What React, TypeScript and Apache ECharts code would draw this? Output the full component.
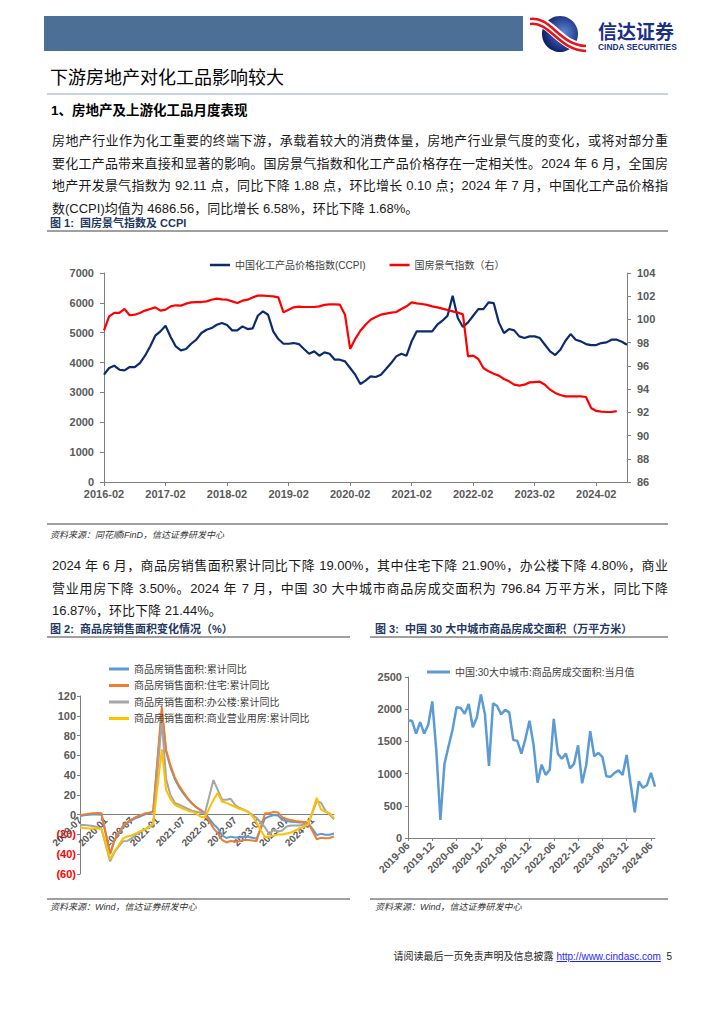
import React, { useEffect, useRef } from "react";
import * as echarts from "echarts";

function monthRange(y0: number, m0: number, count: number): string[] {
  const out: string[] = [];
  let y = y0;
  let m = m0;
  for (let i = 0; i < count; i++) {
    out.push(`${y}-${m < 10 ? "0" + m : m}`);
    m++;
    if (m > 12) { m = 1; y++; }
  }
  return out;
}

// Chart 1: 2016-02 .. 2024-08
const cat1 = monthRange(2016, 2, 103);
const ccpi = [
  3594, 3817, 3895, 3760, 3740, 3850, 3850, 3985, 4230, 4540, 4900, 5045,
  5234, 4855, 4540, 4410, 4453, 4630, 4766, 4989, 5100, 5156, 5268, 5323,
  5257, 5078, 5078, 5212, 5123, 5145, 5569, 5714, 5602, 5045, 4788, 4631,
  4631, 4654, 4620, 4453, 4297, 4375, 4230, 4342, 4297, 4096, 4096, 4040,
  3817, 3594, 3281, 3393, 3538, 3516, 3594, 3783, 3984, 4208, 4297, 4230,
  4710, 5045, 5045, 5045, 5045, 5268, 5402, 5569, 6239, 5491, 5190, 5346,
  5569, 5792, 5792, 6016, 5993, 5346, 4989, 5123, 5078, 4877, 4821, 4877,
  4877, 4821, 4598, 4375, 4252, 4431, 4732, 4955, 4766, 4710, 4620, 4587,
  4587, 4654, 4676, 4766, 4766, 4699, 4598,
];
const housingIndex = [
  99.06, 100.27, 100.56, 100.56, 100.9, 100.36, 100.41, 100.56, 100.76, 100.9, 101.04, 100.76,
  100.84, 101.13, 101.22, 101.19, 101.36, 101.47, 101.5, 101.5, 101.56, 101.7, 101.79, 101.73,
  101.7, 101.56, 101.42, 101.62, 101.7, 101.9, 102.05, 102.05, 102.02, 101.99, 101.9, 100.61,
  100.84, 101.04, 101.1, 101.07, 101.07, 101.07, 101.13, 101.25, 101.3, 101.3, 101.27, 100.41,
  97.46, 98.32, 99.03, 99.55, 99.98, 100.21, 100.41, 100.5, 100.59, 100.64, 100.9, 101.13,
  101.47, 101.39, 101.33, 101.25, 101.13, 101.04, 100.93, 100.81, 100.7, 100.59, 100.44, 96.82,
  96.88, 96.59, 95.82, 95.53, 95.33, 95.16, 94.87, 94.67, 94.38, 94.3, 94.38, 94.58,
  94.61, 94.64, 94.38, 93.95, 93.67, 93.49, 93.38, 93.38, 93.38, 93.38, 93.32, 92.37,
  92.12, 92.06, 92.03, 92.03, 92.11,
];

// Chart 2: 2019-07 .. 2024-06
const cat2 = monthRange(2019, 7, 60);
const salesTotal = [
  -1.3, -0.6, -0.1, 0.1, 0.2, -0.1, null, -39.9, -26.3, -19.3, -12.3, -8.4,
  -5.8, -3.3, -1.8, 0.0, 1.3, 2.6, null, 104.9, 63.8, 48.1, 36.3, 27.7,
  21.5, 15.9, 11.3, 7.6, 4.8, 1.9, null, -9.6, -13.8, -20.9, -23.6, -22.2,
  -23.1, -23.0, -22.2, -22.3, -23.3, -24.3, null, -3.6, -1.8, -0.4, -0.9, -5.3,
  -6.5, -7.1, -7.5, -7.8, -8.0, -8.5, null, -20.5, -19.4, -20.2, -20.3, -19.0,
];
const salesResidential = [
  -0.6, 0.3, 0.9, 1.5, 1.8, 1.5, null, -39.2, -25.9, -18.3, -11.1, -7.6,
  -4.8, -2.3, -0.5, 1.1, 2.0, 3.2, null, 108.9, 65.3, 50.2, 38.0, 29.4,
  22.8, 16.7, 11.6, 7.5, 4.4, 1.1, null, -13.8, -18.6, -25.5, -28.1, -26.6,
  -27.1, -26.8, -25.7, -25.7, -26.2, -26.8, null, 1.4, 1.5, 2.7, 2.3, -2.8,
  -4.3, -5.5, -6.3, -6.8, -7.3, -8.2, null, -24.8, -23.4, -23.8, -23.6, -21.9,
];
const salesOffice = [
  -10.5, -10.5, -11.0, -11.5, -12.5, -14.7, null, -47.3, -38.0, -32.0, -27.0, -26.5,
  -24.0, -20.0, -17.0, -15.0, -12.0, -10.4, null, 95.0, 36.0, 20.0, 12.0, 10.0,
  8.0, 6.0, 4.0, 3.0, 2.0, 1.2, null, 35.0, 25.0, 15.0, 15.0, 16.0,
  10.0, 7.0, 5.0, 3.0, 0.0, -3.3, null, -13.0, -20.0, -15.0, -17.0, -16.0,
  -12.0, -11.0, -11.0, -11.0, -10.0, -9.7, null, 14.0, 12.0, 4.0, 0.0, -4.8,
];
const salesCommercial = [
  -13.0, -13.5, -14.0, -14.0, -14.0, -14.5, null, -45.0, -37.0, -31.0, -24.0, -22.0,
  -21.0, -19.0, -17.0, -15.0, -13.0, -8.7, null, 66.0, 25.0, 16.0, 10.0, 8.0,
  6.0, 4.0, 3.0, 1.0, -2.0, -2.6, null, 15.0, 22.0, 13.0, 12.0, 10.0,
  8.0, 6.0, 5.0, 3.0, -1.0, -8.0, null, -23.0, -22.0, -21.0, -20.0, -20.0,
  -19.0, -18.0, -16.0, -14.0, -12.0, -10.0, null, 17.0, 5.0, 3.0, 1.5, -3.5,
];

// Chart 3: 2019-06 .. 2024-07
const cat3 = monthRange(2019, 6, 62);
const cityArea = [
  1826, 1820, 1620, 1800, 1620, 1760, 2120, 1350, 280, 1150, 1420, 1680,
  2030, 2020, 1930, 2080, 1720, 1870, 2230, 1920, 1120, 2090, 2050, 1920,
  1990, 1950, 1520, 1510, 1310, 1540, 1820, 1450, 860, 1140, 980, 1060,
  1850, 1310, 1230, 1310, 1080, 1150, 1440, 850, 1130, 1660, 1270, 1320,
  1260, 960, 950, 1010, 1050, 980, 1290, 830, 400, 880, 780, 820,
  1010, 797,
];

const S1A = "中国化工产品价格指数(CCPI)";
const S1B = "国房景气指数（右）";
const S2A = "商品房销售面积:累计同比";
const S2B = "商品房销售面积:住宅:累计同比";
const S2C = "商品房销售面积:办公楼:累计同比";
const S2D = "商品房销售面积:商业营业用房:累计同比";
const S3A = "中国:30大中城市:商品房成交面积:当月值";

const numFont = '"Liberation Sans", Arial, sans-serif';
const cjkFont = '"Liberation Sans", "Noto Sans CJK SC", sans-serif';
const axisColor = "#7f7f7f";
const labelColor = "#595959";

const plain = (v: number) => String(v);
const baseLabel = { fontFamily: numFont, fontSize: 11, fontWeight: "bold", color: labelColor };
const line = { lineStyle: { color: axisColor, width: 1 } };

// chart 2 geometry: zero line offset from grid bottom
const g2Top = 696;
const g2Height = 178;
const zeroOffset = -(g2Height * 60) / 180;

function App() {
  const ref = useRef<HTMLDivElement>(null);
  useEffect(() => {
    if (!ref.current) return;
    const chart = echarts.init(ref.current, null, { renderer: "svg" });
    const hr = (x1: number, x2: number, y: number, color: string, w = 1) => ({
      type: "line",
      shape: { x1, y1: y, x2, y2: y },
      style: { stroke: color, lineWidth: w },
      silent: true,
    });
    const option: any = {
      animation: false,
      backgroundColor: "#ffffff",
      grid: [
        { left: 104, top: 273, width: 523, height: 209, outerBoundsMode: "none" },
        { left: 80, top: g2Top, width: 254, height: g2Height, outerBoundsMode: "none" },
        { left: 408, top: 677, width: 247, height: 161, outerBoundsMode: "none" },
      ],
      legend: [
        {
          data: [S1A, S1B], left: 205, top: 255, icon: "rect", itemWidth: 20, itemHeight: 2.5,
          itemGap: 24, textStyle: { fontFamily: cjkFont, fontSize: 10, color: "#404040" },
        },
        {
          data: [S2A, S2B, S2C, S2D], orient: "vertical", left: 104, top: 659, icon: "rect",
          itemWidth: 20, itemHeight: 3, itemGap: 6.5, textStyle: { fontFamily: cjkFont, fontSize: 10, color: "#404040" },
        },
        {
          data: [S3A], left: 422, top: 662, icon: "rect", itemWidth: 23, itemHeight: 3,
          textStyle: { fontFamily: cjkFont, fontSize: 10, color: "#404040" },
        },
      ],
      xAxis: [
        {
          type: "category", gridIndex: 0, data: cat1, boundaryGap: false,
          axisLine: line, axisTick: { show: true, interval: 11, length: 4, ...line },
          axisLabel: { ...baseLabel, interval: 11, margin: 6 }, splitLine: { show: false },
        },
        {
          type: "category", gridIndex: 1, data: cat2, boundaryGap: false, position: "bottom",
          offset: zeroOffset,
          axisLine: { onZero: false, ...line }, axisTick: { show: false },
          axisLabel: { ...baseLabel, fontSize: 10, interval: 5, rotate: 45, margin: 4 }, splitLine: { show: false },
        },
        {
          type: "category", gridIndex: 2, data: cat3, boundaryGap: false,
          axisLine: line, axisTick: { show: true, interval: 5, length: 3, ...line },
          axisLabel: { ...baseLabel, fontSize: 10.5, interval: 5, rotate: 45, margin: 6 }, splitLine: { show: false },
        },
      ],
      yAxis: [
        {
          type: "value", gridIndex: 0, min: 0, max: 7000, interval: 1000, position: "left",
          axisLine: { show: true, ...line }, axisTick: { show: true, length: 4, ...line },
          axisLabel: { ...baseLabel, margin: 10, formatter: plain }, splitLine: { show: false },
        },
        {
          type: "value", gridIndex: 0, min: 86, max: 104, interval: 2, position: "right",
          axisLine: { show: true, ...line }, axisTick: { show: true, length: 4, ...line },
          axisLabel: { ...baseLabel, margin: 10, formatter: plain }, splitLine: { show: false },
        },
        {
          type: "value", gridIndex: 1, min: -60, max: 120, interval: 20,
          axisLine: { show: true, ...line }, axisTick: { show: true, length: 3, ...line },
          axisLabel: {
            ...baseLabel, margin: 4,
            formatter: (v: number) => (v < 0 ? `(${-v})` : `${v}`),
            color: (v: any) => (Number(v) < 0 ? "#ff0000" : labelColor),
          },
          splitLine: { show: false },
        },
        {
          type: "value", gridIndex: 2, min: 0, max: 2500, interval: 500,
          axisLine: { show: true, ...line }, axisTick: { show: true, length: 3, ...line },
          axisLabel: { ...baseLabel, margin: 6, formatter: plain }, splitLine: { show: false },
        },
      ],
      series: [
        {
          name: S1A, type: "line", xAxisIndex: 0, yAxisIndex: 0, data: ccpi, symbol: "none",
          lineStyle: { color: "#0c2a6e", width: 2.2 }, itemStyle: { color: "#0c2a6e" },
        },
        {
          name: S1B, type: "line", xAxisIndex: 0, yAxisIndex: 1, data: housingIndex, symbol: "none",
          lineStyle: { color: "#ff0000", width: 2.2 }, itemStyle: { color: "#ff0000" },
        },
        {
          name: S2A, type: "line", xAxisIndex: 1, yAxisIndex: 2, data: salesTotal, symbol: "none", connectNulls: true,
          lineStyle: { color: "#5b9bd5", width: 2 }, itemStyle: { color: "#5b9bd5" },
        },
        {
          name: S2B, type: "line", xAxisIndex: 1, yAxisIndex: 2, data: salesResidential, symbol: "none", connectNulls: true,
          lineStyle: { color: "#ed7d31", width: 2 }, itemStyle: { color: "#ed7d31" },
        },
        {
          name: S2C, type: "line", xAxisIndex: 1, yAxisIndex: 2, data: salesOffice, symbol: "none", connectNulls: true,
          lineStyle: { color: "#a5a5a5", width: 2 }, itemStyle: { color: "#a5a5a5" },
        },
        {
          name: S2D, type: "line", xAxisIndex: 1, yAxisIndex: 2, data: salesCommercial, symbol: "none", connectNulls: true,
          lineStyle: { color: "#ffc000", width: 2 }, itemStyle: { color: "#ffc000" },
        },
        {
          name: S3A, type: "line", xAxisIndex: 2, yAxisIndex: 3, data: cityArea, symbol: "none",
          lineStyle: { color: "#5b9bd5", width: 2.5 }, itemStyle: { color: "#5b9bd5" },
        },
      ],
      graphic: [
        { type: "rect", shape: { x: 44, y: 16, width: 479, height: 35 }, style: { fill: "#4b6f97" }, silent: true },
        {
          type: "circle", shape: { cx: 560, cy: 34, r: 18 }, silent: true,
          style: {
            fill: {
              type: "radial", x: 0.6, y: 0.45, r: 0.6,
              colorStops: [{ offset: 0, color: "#5f86d8" }, { offset: 1, color: "#0b1c66" }],
            },
          },
        },
        {
          type: "bezierCurve", silent: true,
          shape: { x1: 530, y1: 21, cpx1: 551, cpy1: 18, cpx2: 559, cpy2: 47, x2: 586, y2: 48 },
          style: { stroke: "#ffffff", lineWidth: 10, fill: "none" },
        },
        {
          type: "bezierCurve", silent: true,
          shape: { x1: 530, y1: 19, cpx1: 551, cpy1: 16, cpx2: 559, cpy2: 45, x2: 586, y2: 46 },
          style: { stroke: "#e3141b", lineWidth: 2.6, fill: "none" },
        },
        {
          type: "bezierCurve", silent: true,
          shape: { x1: 530, y1: 24, cpx1: 550, cpy1: 21, cpx2: 558, cpy2: 50, x2: 586, y2: 51 },
          style: { stroke: "#e3141b", lineWidth: 2.6, fill: "none" },
        },
        {
          type: "text", silent: true, x: 598, y: 21,
          style: { text: "信达证券", font: 'bold 19px "Noto Sans CJK SC", sans-serif', fill: "#1a2f86", verticalAlign: "top" },
        },
        {
          type: "text", silent: true, x: 598, y: 43,
          style: { text: "CINDA SECURITIES", font: 'bold 8.4px "Liberation Sans", Arial, sans-serif', fill: "#1a2f86", verticalAlign: "top" },
        },
        hr(47, 668, 94, "#8ea9cc", 1.2),
        hr(47, 668, 231, "#404040", 1),
        hr(47, 668, 524, "#404040", 1),
        hr(47, 350, 637, "#404040", 1),
        hr(370, 668, 637, "#404040", 1),
        hr(47, 350, 899, "#404040", 1),
        hr(370, 668, 899, "#404040", 1),
      ],
    };
    chart.setOption(option);
    return () => chart.dispose();
  }, []);

  const para: React.CSSProperties = {
    position: "absolute", left: 52, width: 616, fontFamily: cjkFont, fontSize: 13, lineHeight: "22px",
    color: "#1a1a1a", textAlign: "justify", textAlignLast: "justify", whiteSpace: "normal",
  };
  const lastLine: React.CSSProperties = { ...para, textAlignLast: "left", textAlign: "left" };
  const caption: React.CSSProperties = {
    position: "absolute", fontFamily: cjkFont, fontSize: 11, fontWeight: "bold", lineHeight: "14px",
    color: "#1f3864", whiteSpace: "nowrap",
  };
  const source: React.CSSProperties = {
    position: "absolute", fontFamily: cjkFont, fontSize: 9, fontStyle: "italic", lineHeight: "12px",
    color: "#333333", whiteSpace: "nowrap",
  };

  return (
    <div style={{ position: "absolute", left: 0, top: 0, width: 724, height: 1024, background: "#fff", overflow: "hidden" }}>
      <div ref={ref} style={{ position: "absolute", left: 0, top: 0, width: 724, height: 1024 }} />
      <div style={{ position: "absolute", left: 50, top: 67, fontFamily: cjkFont, fontSize: 18, lineHeight: "22px", color: "#000", whiteSpace: "nowrap" }}>
        下游房地产对化工品影响较大
      </div>
      <div style={{ position: "absolute", left: 51, top: 102, fontFamily: cjkFont, fontSize: 13.5, fontWeight: "bold", lineHeight: "18px", color: "#000", whiteSpace: "nowrap" }}>
        1、房地产及上游化工品月度表现
      </div>
      <div style={{ ...para, top: 130 }}>房地产行业作为化工重要的终端下游，承载着较大的消费体量，房地产行业景气度的变化，或将对部分重</div>
      <div style={{ ...para, top: 152.5 }}>要化工产品带来直接和显著的影响。国房景气指数和化工产品价格存在一定相关性。2024 年 6 月，全国房</div>
      <div style={{ ...para, top: 175 }}>地产开发景气指数为 92.11 点，同比下降 1.88 点，环比增长 0.10 点；2024 年 7 月，中国化工产品价格指</div>
      <div style={{ ...lastLine, top: 197.5 }}>数(CCPI)均值为 4686.56，同比增长 6.58%，环比下降 1.68%。</div>

      <div style={{ ...caption, left: 50, top: 216 }}>图 1:&nbsp; 国房景气指数及 CCPI</div>
      <div style={{ ...source, left: 50, top: 529 }}>资料来源：同花顺iFinD，信达证券研发中心</div>

      <div style={{ ...para, top: 555 }}>2024 年 6 月，商品房销售面积累计同比下降 19.00%，其中住宅下降 21.90%，办公楼下降 4.80%，商业</div>
      <div style={{ ...para, top: 577.5 }}>营业用房下降 3.50%。2024 年 7 月，中国 30 大中城市商品房成交面积为 796.84 万平方米，同比下降</div>
      <div style={{ ...lastLine, top: 600 }}>16.87%，环比下降 21.44%。</div>

      <div style={{ ...caption, left: 50, top: 622 }}>图 2:&nbsp; 商品房销售面积变化情况（%）</div>
      <div style={{ ...caption, left: 375, top: 622 }}>图 3:&nbsp; 中国 30 大中城市商品房成交面积（万平方米）</div>
      <div style={{ ...source, left: 50, top: 901 }}>资料来源：Wind，信达证券研发中心</div>
      <div style={{ ...source, left: 375, top: 901 }}>资料来源：Wind，信达证券研发中心</div>

      <div style={{ position: "absolute", right: 52, top: 950, fontFamily: cjkFont, fontSize: 10, lineHeight: "14px", color: "#222", whiteSpace: "nowrap" }}>
        请阅读最后一页免责声明及信息披露&nbsp;
        <span style={{ color: "#1f1fff", textDecoration: "underline" }}>http://www.cindasc.com</span>
        &nbsp;&nbsp;5
      </div>
    </div>
  );
}

export default App;
